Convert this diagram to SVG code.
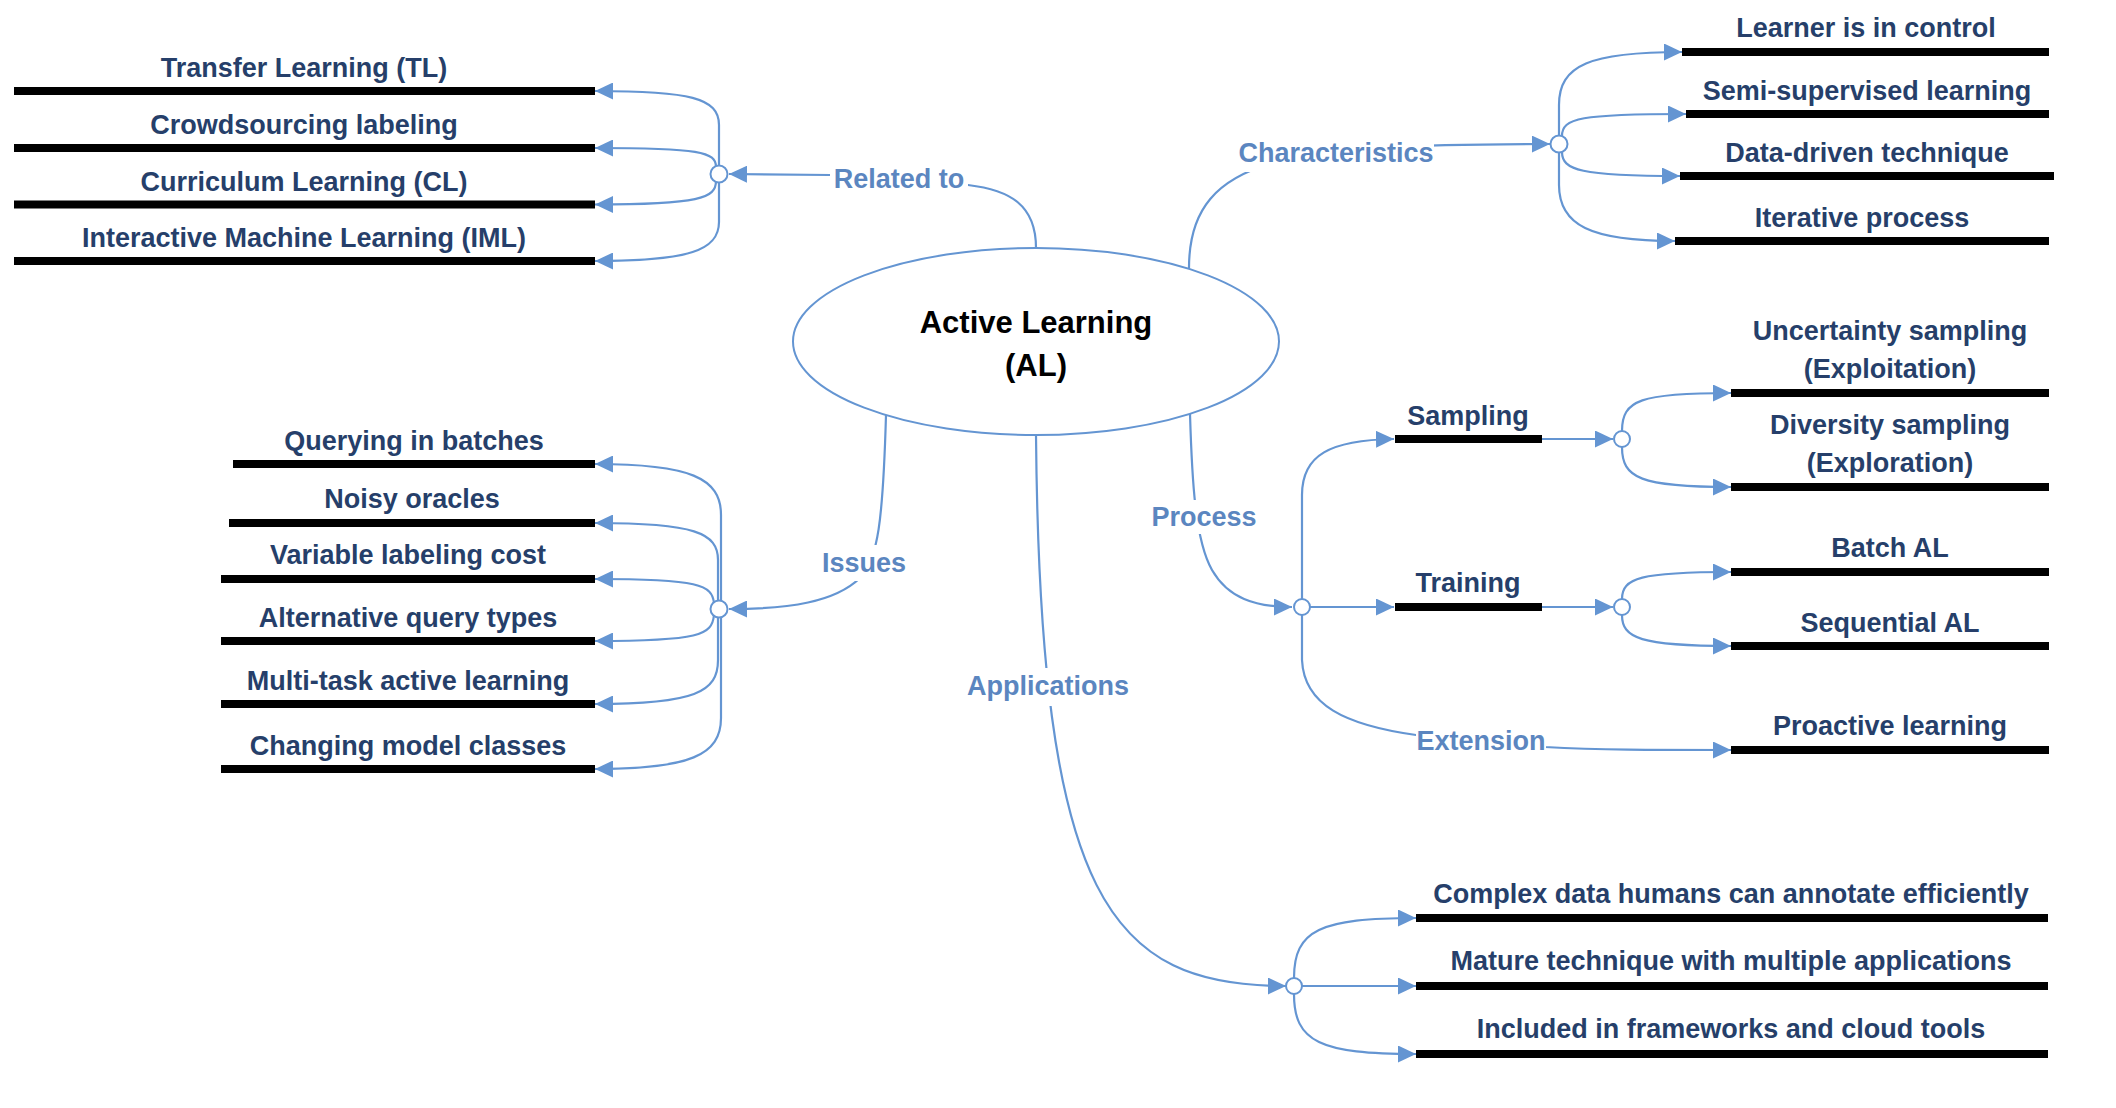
<svg xmlns="http://www.w3.org/2000/svg" width="2116" height="1108" viewBox="0 0 2116 1108">
<style>
.bar{fill:#000}
.t{font-family:"Liberation Sans",Arial,sans-serif;font-weight:bold;font-size:27px;fill:#263F6A;text-anchor:middle}
.lbl{font-family:"Liberation Sans",Arial,sans-serif;font-weight:bold;font-size:27px;fill:#5B86C0;text-anchor:middle}
.title{font-family:"Liberation Sans",Arial,sans-serif;font-weight:bold;font-size:31px;fill:#000;text-anchor:middle}
.c{fill:none;stroke:#6495D2;stroke-width:2.2}
.a{marker-end:url(#arr)}
.hub{fill:#fff;stroke:#6495D2;stroke-width:2}
.bg{fill:#fff}
</style>
<defs>
<marker id="arr" viewBox="0 0 18 17" refX="18" refY="8.5" markerWidth="18" markerHeight="17" markerUnits="userSpaceOnUse" orient="auto">
<path d="M0,0 L18,8.5 L0,17 Z" fill="#6495D2"/>
</marker>
</defs>
<rect width="2116" height="1108" fill="#fff"/>

<g id="connectors">
<!-- from central ellipse -->
<path class="c a" d="M1036,248 C1036,205 1010,190 968,185 L830,175 L729,174"/>
<path class="c a" d="M1189,268 C1189,150 1300,145 1550,144"/>
<path class="c a" d="M886,415 C883,520 878,560 860,578 C835,602 790,609 729,609"/>
<path class="c a" d="M1190,414 C1192,480 1195,540 1212,570 C1228,598 1255,607 1292,607"/>
<path class="c a" d="M1036,435 C1040,900 1110,986 1286,986"/>
<!-- related to branches -->
<path class="c a" d="M719,166 L719,125 C719,98 690,91 595,91"/>
<path class="c a" d="M716,167 C716,152 700,148 595,148"/>
<path class="c a" d="M716,181 C716,198 700,204.5 595,204.5"/>
<path class="c a" d="M719,182 L719,222 C719,250 690,261 595,261"/>
<!-- issues branches -->
<path class="c a" d="M721,601 L721,515 C721,478 690,464 595,464"/>
<path class="c a" d="M718,601 L718,560 C718,533 695,523 595,523"/>
<path class="c a" d="M714,603 C712,585 700,579 595,579"/>
<path class="c a" d="M714,615 C712,635 700,641 595,641"/>
<path class="c a" d="M718,617 L718,660 C718,692 695,704 595,704"/>
<path class="c a" d="M721,617 L721,718 C721,755 690,769 595,769"/>
<!-- characteristics branches -->
<path class="c a" d="M1559,136 L1559,105 C1559,65 1590,52 1682,52"/>
<path class="c a" d="M1562,136 C1562,118 1580,114 1686,114"/>
<path class="c a" d="M1562,152 C1562,170 1580,176 1680,176"/>
<path class="c a" d="M1559,152 L1559,185 C1559,225 1590,241 1675,241"/>
<!-- process branches -->
<path class="c a" d="M1302,599 L1302,495 C1302,455 1330,440 1394,439"/>
<path class="c a" d="M1310,607 L1394,607"/>
<path class="c a" d="M1302,615 L1302,660 C1304,705 1345,725 1416,735 L1545,747 C1600,750 1650,750 1731,750"/>
<!-- sampling / training -->
<path class="c a" d="M1542,439 L1613,439"/>
<path class="c a" d="M1542,607 L1613,607"/>
<path class="c a" d="M1622,431 C1622,400 1640,393 1731,393"/>
<path class="c a" d="M1622,447 C1622,478 1640,487 1731,487"/>
<path class="c a" d="M1622,599 C1622,578 1640,572 1731,572"/>
<path class="c a" d="M1622,615 C1622,638 1640,646 1731,646"/>
<!-- applications branches -->
<path class="c a" d="M1294,978 C1294,930 1320,918 1416,918"/>
<path class="c a" d="M1302,986 L1416,986"/>
<path class="c a" d="M1294,994 C1294,1042 1320,1054 1416,1054"/>
</g>

<g id="labels">
<g id="lbl-related"><rect class="bg" x="830" y="160" width="138" height="36"/><text class="lbl" x="899" y="188">Related to</text></g>
<g id="lbl-characteristics"><rect class="bg" x="1238" y="136" width="196" height="36"/><text class="lbl" x="1336" y="162">Characteristics</text></g>
<g id="lbl-issues"><rect class="bg" x="822" y="545" width="84" height="36"/><text class="lbl" x="864" y="572">Issues</text></g>
<g id="lbl-process"><rect class="bg" x="1151" y="500" width="106" height="34"/><text class="lbl" x="1204" y="526">Process</text></g>
<g id="lbl-applications"><rect class="bg" x="964" y="668" width="168" height="38"/><text class="lbl" x="1048" y="695">Applications</text></g>
<g id="lbl-extension"><rect class="bg" x="1416" y="724" width="130" height="34"/><text class="lbl" x="1481" y="750">Extension</text></g>
</g>

<g id="hubs">
<circle class="hub" cx="719" cy="174" r="8.5"/>
<circle class="hub" cx="719" cy="609" r="8.5"/>
<circle class="hub" cx="1559" cy="144" r="8.5"/>
<circle class="hub" cx="1302" cy="607" r="8"/>
<circle class="hub" cx="1622" cy="439" r="8"/>
<circle class="hub" cx="1622" cy="607" r="8"/>
<circle class="hub" cx="1294" cy="986" r="8"/>
</g>

<g id="node-al">
<ellipse cx="1036" cy="341.5" rx="243" ry="93.5" fill="#fff" stroke="#6495D2" stroke-width="2"/>
<text class="title" x="1036" y="333">Active Learning</text>
<text class="title" x="1036" y="376">(AL)</text>
</g>

<g id="node-tl"><rect class="bar" x="14" y="87" width="581" height="8"/><text class="t" x="304" y="77">Transfer Learning (TL)</text></g>
<g id="node-crowd"><rect class="bar" x="14" y="144" width="581" height="8"/><text class="t" x="304" y="134">Crowdsourcing labeling</text></g>
<g id="node-cl"><rect class="bar" x="14" y="200.5" width="581" height="8"/><text class="t" x="304" y="190.5">Curriculum Learning (CL)</text></g>
<g id="node-iml"><rect class="bar" x="14" y="257" width="581" height="8"/><text class="t" x="304" y="247">Interactive Machine Learning (IML)</text></g>

<g id="node-querying"><rect class="bar" x="233" y="460" width="362" height="8"/><text class="t" x="414" y="450">Querying in batches</text></g>
<g id="node-noisy"><rect class="bar" x="229" y="519" width="366" height="8"/><text class="t" x="412" y="508">Noisy oracles</text></g>
<g id="node-variable"><rect class="bar" x="221" y="575" width="374" height="8"/><text class="t" x="408" y="564">Variable labeling cost</text></g>
<g id="node-alternative"><rect class="bar" x="221" y="637" width="374" height="8"/><text class="t" x="408" y="627">Alternative query types</text></g>
<g id="node-multitask"><rect class="bar" x="221" y="700" width="374" height="8"/><text class="t" x="408" y="690">Multi-task active learning</text></g>
<g id="node-changing"><rect class="bar" x="221" y="765" width="374" height="8"/><text class="t" x="408" y="755">Changing model classes</text></g>

<g id="node-learner"><rect class="bar" x="1682" y="48" width="367" height="8"/><text class="t" x="1866" y="37">Learner is in control</text></g>
<g id="node-semi"><rect class="bar" x="1686" y="110" width="363" height="8"/><text class="t" x="1867" y="100">Semi-supervised learning</text></g>
<g id="node-datadriven"><rect class="bar" x="1680" y="172" width="374" height="8"/><text class="t" x="1867" y="162">Data-driven technique</text></g>
<g id="node-iterative"><rect class="bar" x="1675" y="237" width="374" height="8"/><text class="t" x="1862" y="227">Iterative process</text></g>

<g id="node-sampling"><rect class="bar" x="1395" y="435" width="147" height="8"/><text class="t" x="1468" y="425">Sampling</text></g>
<g id="node-training"><rect class="bar" x="1395" y="603" width="147" height="8"/><text class="t" x="1468" y="592">Training</text></g>

<g id="node-uncertainty"><rect class="bar" x="1731" y="389" width="318" height="8"/><text class="t" x="1890" y="340">Uncertainty sampling</text><text class="t" x="1890" y="378">(Exploitation)</text></g>
<g id="node-diversity"><rect class="bar" x="1731" y="483" width="318" height="8"/><text class="t" x="1890" y="434">Diversity sampling</text><text class="t" x="1890" y="472">(Exploration)</text></g>
<g id="node-batch"><rect class="bar" x="1731" y="568" width="318" height="8"/><text class="t" x="1890" y="557">Batch AL</text></g>
<g id="node-sequential"><rect class="bar" x="1731" y="642" width="318" height="8"/><text class="t" x="1890" y="632">Sequential AL</text></g>
<g id="node-proactive"><rect class="bar" x="1731" y="746" width="318" height="8"/><text class="t" x="1890" y="735">Proactive learning</text></g>

<g id="node-complex"><rect class="bar" x="1416" y="914" width="632" height="8"/><text class="t" x="1731" y="903">Complex data humans can annotate efficiently</text></g>
<g id="node-mature"><rect class="bar" x="1416" y="982" width="632" height="8"/><text class="t" x="1731" y="970">Mature technique with multiple applications</text></g>
<g id="node-included"><rect class="bar" x="1416" y="1050" width="632" height="8"/><text class="t" x="1731" y="1038">Included in frameworks and cloud tools</text></g>
</svg>
